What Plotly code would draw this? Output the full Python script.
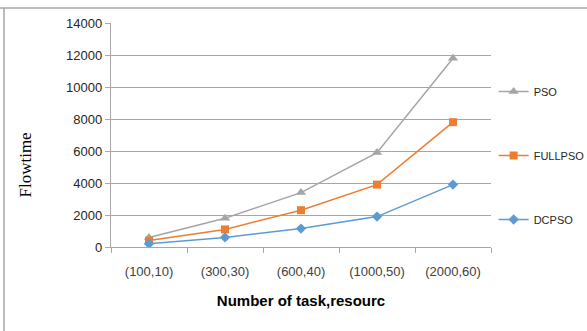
import plotly.graph_objects as go

# Problem sizes (tasks, resources)
categories = ["(100,10)", "(300,30)", "(600,40)", "(1000,50)", "(2000,60)"]

# Flowtime per algorithm
pso = [600, 1800, 3400, 5900, 11800]
fullpso = [400, 1100, 2300, 3900, 7800]
dcpso = [200, 600, 1150, 1900, 3900]

FONT = "Liberation Sans, Arial, sans-serif"
GRID = "#a6a6a6"
W, H = 587, 331
L, R, T, B = 111, 96, 23, 84
PW, PH = W - L - R, H - T - B

fig = go.Figure()

series = [
    ("PSO", pso, "#a5a5a5", "triangle-up", 9),
    ("FULLPSO", fullpso, "#ed7d31", "square", 8),
    ("DCPSO", dcpso, "#5b9bd5", "diamond", 8),
]
for name, vals, color, sym, size in series:
    fig.add_trace(go.Scatter(
        x=categories, y=vals, name=name, mode="lines+markers",
        line=dict(color=color, width=1.5),
        marker=dict(symbol=sym, size=size, color=color),
        legendgroup=name,
    ))

fig.update_layout(
    width=W, height=H,
    margin=dict(l=L, r=R, t=T, b=B, autoexpand=False),
    paper_bgcolor="white", plot_bgcolor="white",
    font=dict(family=FONT, size=13, color="#262626"),
    showlegend=True,
    legend=dict(
        x=1.007, xanchor="left", y=0.759, yanchor="top",
        font=dict(family=FONT, size=11, color="#262626"),
        tracegroupgap=45, itemwidth=30,
        bgcolor="rgba(0,0,0,0)",
    ),
    xaxis=dict(
        type="category", tickson="boundaries", ticks="outside", ticklen=5,
        tickcolor=GRID, showline=True, linecolor=GRID, linewidth=1.3,
        showgrid=False, tickangle=0, automargin=False,
        ticklabelstandoff=12,
        tickfont=dict(family=FONT, size=13, color="#404040"),
        title=dict(text="<b>Number of task,resourc</b>",
                   font=dict(family=FONT, size=15, color="#000000"), standoff=17),
        range=[-0.5, 4.5],
    ),
    yaxis=dict(
        range=[0, 14000], dtick=2000, tickformat="d",
        ticks="outside", ticklen=5, tickcolor=GRID,
        showline=True, linecolor=GRID, linewidth=1.3,
        showgrid=True, gridcolor=GRID, gridwidth=1.3, zeroline=False,
        automargin=False,
        tickfont=dict(family=FONT, size=13, color="#262626"),
    ),
)

# Vertical axis caption, set below the plot's midline
fig.add_annotation(
    text="Flowtime", textangle=-90, showarrow=False,
    xref="paper", yref="paper",
    x=(24.5 - L) / PW, y=(H - B - 165) / PH,
    xanchor="center", yanchor="middle",
    font=dict(family="Liberation Serif, Times New Roman, serif", size=17, color="#000000"),
)

# Frame lines along the top and left edges
fig.add_shape(type="line", xref="paper", yref="paper",
              x0=-L / PW, x1=1.3, y0=1 + 15 / PH, y1=1 + 15 / PH,
              line=dict(color="#a6a6a6", width=1.5))
fig.add_shape(type="line", xref="paper", yref="paper",
              x0=-107 / PW, x1=-107 / PW, y0=1 + 15 / PH, y1=-1,
              line=dict(color="#a6a6a6", width=1.5))

fig.write_html("out.html")
